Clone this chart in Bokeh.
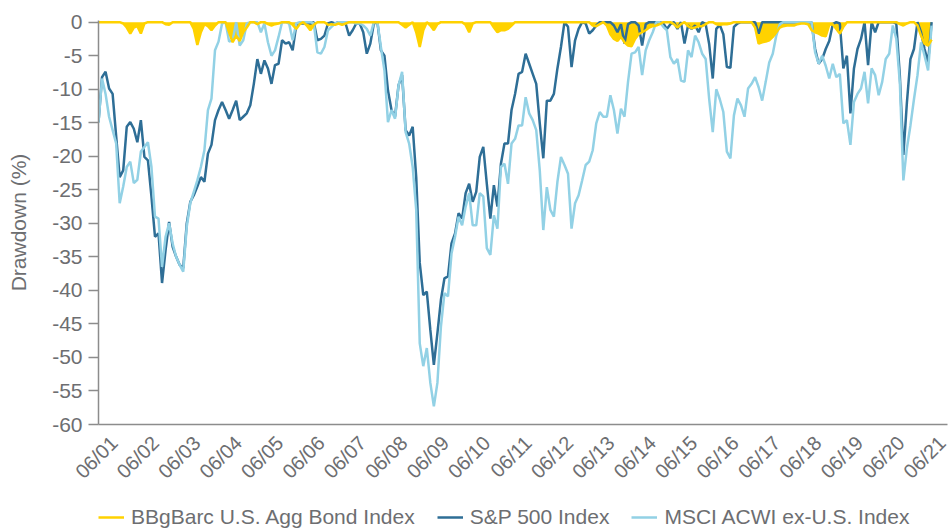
from math import pi, cos
from bokeh.plotting import figure
from bokeh.layouts import column
from bokeh.models import Range1d, FixedTicker, Legend, LegendItem, ColumnDataSource
from bokeh.embed import file_html
from bokeh.resources import INLINE

# ---------------- data (monthly drawdowns, %) ----------------
month_index = list(range(241))

bond = [
    0, 0, 0, 0, 0, 0, 0, -0.2, -0.8, -1.7, -0.8, -0.6,
    -1.7, -0.2, 0, 0, 0, 0, 0, -0.3, -0.4, 0, 0, 0,
    0, 0, 0, -1.0, -3.4, -1.5, -0.3, -0.6, -1.2, -0.5, 0, 0,
    0, -1.5, -3.0, -2.0, -2.8, -1.5, -0.8, 0, 0, -0.3, 0, 0,
    -0.3, -0.5, -0.3, -0.2, 0, 0, 0, -0.4, -1.0, -0.3, 0, -0.5,
    -1.2, -0.4, 0, 0, 0, -0.4, -0.3, -0.4, -0.2, -0.4, -0.2, 0,
    0, 0, 0, 0, 0, 0, 0, 0, 0, 0, 0, 0,
    0, 0, -0.4, -0.8, -0.4, 0, -1.5, -3.7, -1.2, 0, -0.5, -1.2,
    -0.3, 0, 0, 0, 0, 0, 0, 0, -0.4, -1.5, -0.2, 0,
    0, 0, 0, 0, -0.8, -1.5, -1.2, -1.2, -1.0, -0.5, 0, 0,
    0, 0, 0, 0, 0, 0, 0, 0, 0, 0, 0, 0,
    0, 0, 0, 0, 0, 0, 0, 0, -0.5, -0.6, -0.3, 0,
    -0.5, -1.8, -2.5, -2.8, -2.2, -3.0, -3.5, -3.6, -2.5, -1.8, -1.5, -1.2,
    -0.8, -0.6, -0.5, -0.3, 0, 0, 0, -0.3, -0.8, -0.3, 0, -0.6,
    -0.9, -0.8, -0.6, -0.6, -0.3, 0, 0, -0.3, -0.4, -0.3, -0.3, -0.2,
    0, 0, 0, 0, 0, 0, -0.8, -3.2, -3.0, -2.9, -2.7, -2.2,
    -1.5, -0.8, -0.6, -0.5, -0.5, -0.5, -0.3, -0.2, -0.2, -0.3, -1.2, -1.5,
    -1.7, -2.0, -2.1, -0.4, -0.3, -1.0, -1.7, -0.7, 0, 0, 0, 0,
    0, 0, 0, 0, 0, 0, 0, 0, 0, 0, 0, -0.3,
    -0.5, -0.2, 0, 0, -0.5, -2.0, -3.2, -3.5, -2.6,
]

sp500 = [
    -14.9, -8.2, -7.4, -9.9, -10.7, -17.0, -23.1, -22.1, -15.6, -14.9, -15.9, -17.9,
    -14.6, -20.1, -20.6, -26.0, -32.0, -31.5, -38.9, -34.0, -29.8, -33.5, -35.0, -36.2,
    -36.7, -30.0, -26.8, -25.8, -24.5, -23.1, -23.8, -19.6, -18.3, -14.6, -13.1, -11.9,
    -13.1, -14.4, -13.1, -11.7, -14.6, -14.1, -13.6, -12.4, -9.2, -5.5, -7.7, -5.7,
    -6.9, -9.2, -6.4, -6.2, -2.7, -3.2, -3.0, -4.2, -0.5, -0.2, -0.2, 0,
    -0.2, 0, -2.7, -2.5, -2.0, -0.2, 0, -0.2, 0, 0, -0.2, -2.0,
    -1.2, -0.2, -0.2, -1.5, -4.7, -3.2, -0.2, 0, -4.2, -5.0, -10.2, -13.1,
    -14.1, -9.4, -7.9, -16.1, -16.9, -15.6, -23.1, -35.9, -40.7, -40.2, -45.9, -51.1,
    -46.4, -41.4, -38.2, -37.9, -33.0, -31.5, -28.5, -29.3, -25.5, -24.1, -26.8, -25.3,
    -20.1, -18.6, -24.1, -29.3, -24.3, -27.5, -21.1, -18.1, -18.1, -13.1, -10.7, -7.7,
    -7.4, -4.7, -6.2, -7.7, -9.2, -15.1, -20.3, -11.7, -11.7, -10.7, -6.9, -3.7,
    0, -0.7, -6.7, -2.7, -1.0, 0, -0.2, -1.7, -1.2, -0.5, 0, 0,
    0, 0, -0.5, -1.5, -0.3, -3.2, -0.3, 0, 0, -0.5, -3.5, -0.3,
    0, 0, 0, 0, -0.2, -1.0, -0.3, 0, -1.0, 0, -3.2, -0.5,
    -1.0, -0.5, -1.5, 0, -0.3, -3.3, -8.4, -1.0, -0.4, -1.8, -6.7, -6.8,
    -0.7, -0.2, 0, 0, 0, 0, 0, -1.7, 0, 0, 0, 0,
    0, 0, 0, 0, 0, 0, 0, 0, 0, 0, 0, -4.0,
    -6.2, -5.5, -4.0, -2.8, -0.3, 0, -0.2, -6.9, -5.0, -13.6, -6.9, -4.0,
    -2.5, 0, -6.4, 0, -1.5, 0, 0, 0, 0, 0, -0.2, -8.0,
    -19.8, -12.0, -5.5, -4.0, 0, -1.5, -4.0, -6.0, 0, 0, -1.0, 0,
    0,
]

msci = [
    -15.0, -8.4, -10.7, -14.1, -16.1, -18.1, -27.0, -24.5, -21.6, -20.8, -24.0, -23.5,
    -19.3, -18.6, -17.9, -21.6, -29.0, -29.3, -36.5, -32.0, -30.0, -33.0, -35.0, -36.2,
    -37.2, -30.5, -27.0, -25.3, -23.6, -21.6, -19.1, -13.1, -11.4, -4.2, -2.9, -0.2,
    0, -2.9, -2.7, 0, -3.5, -2.7, -0.2, 0, 0, 0, -1.5, -0.2,
    -3.0, -5.0, -4.2, -2.2, 0, 0, -0.2, -2.7, -0.2, 0, 0, 0,
    0, -0.2, -4.5, -4.7, -3.7, -1.2, -0.7, -0.2, 0, 0, 0, 0,
    0, -0.2, -0.2, -0.5, -1.0, -2.0, 0, 0, -3.7, -7.2, -14.9, -13.1,
    -14.4, -9.4, -7.4, -16.4, -18.1, -21.6, -28.0, -47.9, -51.3, -48.6, -53.8, -57.3,
    -53.8, -45.4, -40.4, -40.9, -34.5, -32.0, -29.0, -30.3, -27.5, -25.5, -30.3, -30.3,
    -25.5, -26.0, -33.7, -34.7, -28.8, -30.8, -21.6, -21.1, -24.1, -18.1, -17.4, -15.4,
    -15.4, -11.2, -13.6, -14.6, -16.1, -22.1, -31.0, -24.6, -28.0, -29.0, -23.8, -20.1,
    -21.3, -22.6, -30.8, -27.0, -25.8, -23.6, -21.3, -20.8, -19.1, -15.1, -13.4, -14.1,
    -14.1, -10.9, -13.1, -16.6, -12.9, -14.1, -8.9, -4.7, -4.5, -3.7, -7.9, -4.2,
    -2.7, -1.5, 0, 0, -0.7, -1.2, -5.2, -6.2, -5.5, -8.7, -8.9, -4.2,
    -5.2, -2.0, -3.0, -4.7, -5.5, -11.5, -16.4, -10.0, -11.5, -13.4, -19.3, -20.3,
    -13.9, -11.4, -12.4, -14.1, -9.9, -9.2, -8.2, -9.7, -11.7, -8.9, -6.0, -4.7,
    -2.0, -0.3, 0, 0, 0, 0, 0, 0, 0, 0, 0, -4.5,
    -6.2, -5.0, -6.5, -8.4, -6.2, -8.2, -7.7, -15.1, -14.6, -18.3, -11.9, -10.7,
    -9.9, -7.4, -12.1, -6.9, -7.9, -10.9, -8.9, -5.5, -4.7, -0.5, -2.5, -9.0,
    -23.6, -18.8, -15.4, -11.5, -7.9, -3.0, -5.0, -7.2, -0.5, 0, 0, 0,
    0,
]

x_tick_labels = ["06/01", "06/02", "06/03", "06/04", "06/05", "06/06", "06/07",
                 "06/08", "06/09", "06/10", "06/11", "06/12", "06/13", "06/14",
                 "06/15", "06/16", "06/17", "06/18", "06/19", "06/20", "06/21"]
# label centres on the x scale (one every 11.73 samples)
x_label_pos = [0, 11.73, 23.46, 35.19, 46.92, 58.65, 70.38, 82.11, 93.84, 105.57,
               117.3, 129.03, 140.76, 152.49, 164.22, 175.95, 187.68, 199.41,
               211.14, 222.87, 234.6]
y_ticks = [-60, -55, -50, -45, -40, -35, -30, -25, -20, -15, -10, -5, 0]
y_tick_labels = [str(t) for t in y_ticks]

series_names = ["BBgBarc U.S. Agg Bond Index", "S&P 500 Index",
                "MSCI ACWI ex-U.S. Index"]

# ---------------- styling / layout ----------------
YELLOW = "#FFD200"
DARK = "#2E6E96"
LIGHT = "#92D1E5"
GREY_TXT = "#6D6E71"
GREY_AX = "#8C8C8C"
FONT = "Liberation Sans"

W, H = 950, 529
LEFT, RIGHT, TOP = 98, 3, 20
MAIN_H, MAIN_BOTTOM = 493, 68
X0, X1 = 0, 240.5
px_per_unit = (W - LEFT - RIGHT) / (X1 - X0)

XLAB_PX = 20
# Bokeh anchors 45-degree labels at their right end; move each anchor by half the
# label's projected length so that every label is centred on its position.
label_len_px = 2.502 * XLAB_PX            # "06/01" in Liberation Sans
anchor_shift = (label_len_px / 2) * cos(pi / 4) / px_per_unit - 0.6
x_tick_anchor = [v + anchor_shift for v in x_label_pos]

src = ColumnDataSource(dict(m=month_index, bond=bond, sp=sp500, msci=msci,
                            zero=[0] * len(month_index)))

# ---------------- main chart ----------------
p = figure(width=W, height=MAIN_H, output_backend="svg", toolbar_location=None,
           x_range=Range1d(X0, X1), y_range=Range1d(-60, 0.25),
           min_border_left=LEFT, min_border_right=RIGHT, min_border_top=TOP,
           min_border_bottom=MAIN_BOTTOM)
p.outline_line_color = None
p.xgrid.visible = False
p.ygrid.visible = False

p.varea(x="m", y1="zero", y2="bond", source=src, fill_color=YELLOW)
p.line(x="m", y="sp", source=src, line_color=DARK, line_width=2.5)
p.line(x="m", y="msci", source=src, line_color=LIGHT, line_width=2.5)
p.line(x="m", y="bond", source=src, line_color=YELLOW, line_width=2.5)

yax = p.yaxis[0]
yax.ticker = FixedTicker(ticks=y_ticks)
yax.major_label_overrides = dict(zip(y_ticks, y_tick_labels))
yax.axis_label = "Drawdown (%)"
yax.axis_label_text_font = FONT
yax.axis_label_text_font_size = "21px"
yax.axis_label_text_font_style = "normal"
yax.axis_label_text_color = GREY_TXT
yax.axis_label_standoff = 19
yax.major_label_text_font = FONT
yax.major_label_text_font_size = "21px"
yax.major_label_text_color = GREY_TXT
yax.major_label_standoff = 6
yax.major_tick_in = 0
yax.major_tick_out = 10
yax.minor_tick_out = 0
yax.minor_tick_in = 0
yax.axis_line_color = GREY_AX
yax.axis_line_width = 1.5
yax.major_tick_line_color = GREY_AX
yax.major_tick_line_width = 1.5

xax = p.xaxis[0]
xax.ticker = FixedTicker(ticks=x_tick_anchor)
xax.major_label_overrides = dict(zip(x_tick_anchor, x_tick_labels))
xax.major_label_orientation = pi / 4
xax.major_label_text_font = FONT
xax.major_label_text_font_size = f"{XLAB_PX}px"
xax.major_label_text_color = GREY_TXT
xax.major_label_standoff = 15
xax.axis_line_color = GREY_AX
xax.axis_line_width = 1.5
xax.major_tick_out = 0
xax.major_tick_in = 0
xax.minor_tick_out = 0
xax.minor_tick_in = 0

# ---------------- legend strip ----------------
BOT_H = H - MAIN_H
pb = figure(width=W, height=BOT_H, output_backend="svg", toolbar_location=None,
            x_range=Range1d(X0, X1), y_range=Range1d(1, 2),
            x_axis_type=None, y_axis_type=None, min_border=0,
            min_border_left=0, min_border_right=0, min_border_top=0,
            min_border_bottom=0)
pb.outline_line_color = None
pb.xgrid.visible = False
pb.ygrid.visible = False

# legend keys: the same series, lying outside this strip's visible range
k_bd = pb.line(x="m", y="bond", source=src, line_color=YELLOW, line_width=2.5)
k_sp = pb.line(x="m", y="sp", source=src, line_color=DARK, line_width=2.5)
k_ms = pb.line(x="m", y="msci", source=src, line_color=LIGHT, line_width=2.5)

legend = Legend(items=[LegendItem(label=series_names[0], renderers=[k_bd]),
                       LegendItem(label=series_names[1], renderers=[k_sp]),
                       LegendItem(label=series_names[2], renderers=[k_ms])],
                orientation="horizontal", location=(0, 0),
                padding=0, margin=0, spacing=22, glyph_width=26,
                glyph_height=20, label_standoff=7,
                label_text_font=FONT, label_text_font_size="21px",
                label_text_color=GREY_TXT, border_line_color=None,
                background_fill_alpha=0)
pb.add_layout(legend, "center")

page = column(p, pb, spacing=0)

open("out.html", "w").write(file_html(page, INLINE))
